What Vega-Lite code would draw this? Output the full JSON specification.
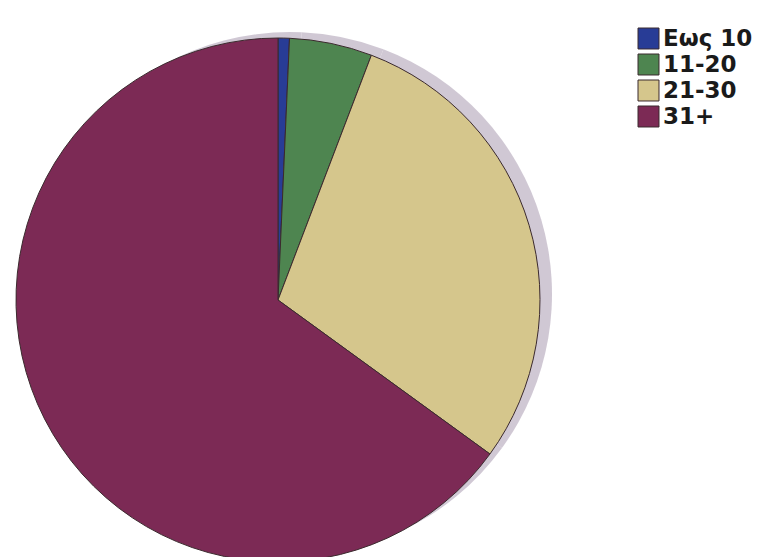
{
  "$schema": "https://vega.github.io/schema/vega-lite/v6.json",
  "width": 556,
  "height": 600,
  "padding": {"left": 0, "top": 0, "right": 0, "bottom": 0},
  "background": "#ffffff",
  "config": {"view": {"stroke": null}},
  "data": {
    "values": [
      {"group": "Εως 10", "pct": 0.7, "ord": 1},
      {"group": "11-20", "pct": 5.1, "ord": 2},
      {"group": "21-30", "pct": 29.2, "ord": 3},
      {"group": "31+", "pct": 65.0, "ord": 4}
    ]
  },
  "encoding": {
    "theta": {"field": "pct", "type": "quantitative", "stack": true},
    "order": {"field": "ord", "type": "quantitative"}
  },
  "layer": [
    {
      "mark": {"type": "arc", "radius": 262, "color": "#cbc2cf", "xOffset": 12, "yOffset": -6, "opacity": 0.9}
    },
    {
      "mark": {"type": "arc", "radius": 262, "stroke": "#3b2a2e", "strokeWidth": 1},
      "encoding": {
        "color": {
          "field": "group",
          "type": "nominal",
          "sort": ["Εως 10", "11-20", "21-30", "31+"],
          "scale": {
            "domain": ["Εως 10", "11-20", "21-30", "31+"],
            "range": ["#283c96", "#4e8550", "#d5c68c", "#7c2a55"]
          },
          "legend": {
            "title": null,
            "orient": "none",
            "legendX": 637,
            "legendY": 27,
            "symbolType": "square",
            "symbolSize": 440,
            "symbolStrokeColor": "#3b2a2e",
            "symbolStrokeWidth": 1,
            "symbolOpacity": 1,
            "labelFont": "DejaVu Sans",
            "labelFontSize": 23,
            "labelFontWeight": "bold",
            "labelColor": "#1a1a1a",
            "labelOffset": 3,
            "rowPadding": 1
          }
        }
      }
    }
  ]
}
